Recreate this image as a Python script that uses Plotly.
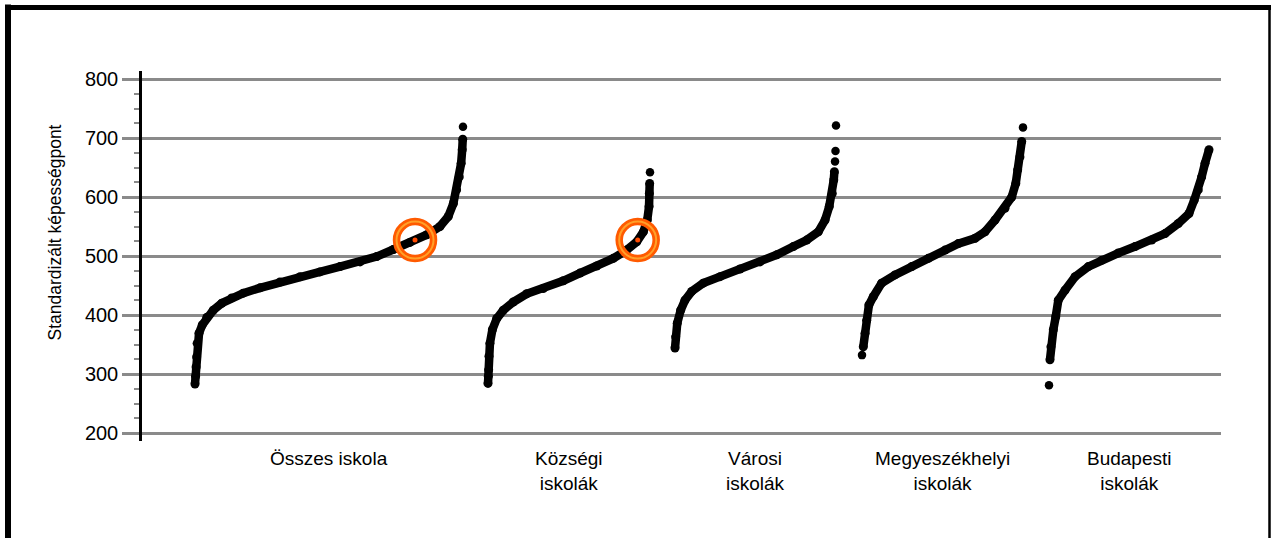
import plotly.graph_objects as go

# ---------------- data ----------------
categories = ["Összes iskola", "Községi\niskolák", "Városi\niskolák",
              "Megyeszékhelyi\niskolák", "Budapesti\niskolák"]

# percentile rank within the group (0-100) and standardized score
osszes_rank = [0, 0.2, 0.4, 0.6, 0.8, 1.5, 2.7, 4.4, 6.8, 10.0, 13.7, 18.0, 24.3, 31.7,
               39.2, 46.6, 54.1, 61.6, 67.8, 74.0, 80.2, 86.5, 91.4, 94.5, 96.4, 97.6,
               98.6, 99.3, 99.7, 99.9]
osszes_score = [283, 296, 312, 329, 352, 369, 383, 396, 408, 420, 429, 437, 446, 456,
                465, 473, 482, 490, 499, 511, 523, 536, 550, 567, 589, 612,
                634, 657, 680, 698]
osszes_out_rank = [100]
osszes_out_score = [719]

kozsegi_rank = [0, 0.2, 0.4, 0.6, 1.2, 2.7, 5.4, 9.4, 15.6, 23.9, 34.1, 46.5, 56.8,
                67.1, 77.3, 85.6, 91.8, 95.9, 98.3, 99.4, 99.6, 99.8]
kozsegi_score = [284, 296, 307, 330, 352, 375, 394, 408, 422, 436, 445, 458, 471,
                 483, 496, 510, 524, 541, 561, 584, 606, 623]
kozsegi_out_rank = [100]
kozsegi_out_score = [642]

varosi_rank = [0, 0.4, 1.4, 3.5, 6.2, 10.4, 17.6, 28.0, 40.4, 52.8, 63.2, 73.5, 81.8,
               89.0, 93.2, 95.8, 97.7, 98.6, 99.0]
varosi_score = [344, 363, 386, 408, 425, 440, 454, 465, 478, 490, 502, 516, 527,
                541, 561, 584, 606, 629, 643]
varosi_out_rank = [99.4, 99.7, 100]
varosi_out_score = [660, 678, 721]

megyei_rank = [0.8, 1.9, 2.9, 4.3, 7.0, 12.2, 20.5, 30.9, 41.2, 51.6, 59.8, 70.2,
               76.4, 82.6, 88.8, 93.0, 95.5, 96.7, 98.1, 99.2]
megyei_score = [346, 369, 391, 417, 431, 454, 468, 482, 496, 510, 521, 530,
                541, 561, 581, 600, 623, 646, 668, 694]
megyei_out_rank = [0, 100]
megyei_out_score = [332, 718]

budapest_rank = [0.6, 1.2, 2.7, 4.2, 5.8, 10.0, 16.3, 24.6, 33.0, 43.3, 53.8, 64.2,
                 72.5, 80.8, 87.5, 90.8, 93.3, 95.4, 97.5, 100]
budapest_score = [324, 346, 375, 397, 425, 442, 465, 482, 493, 505, 516, 527,
                  538, 555, 572, 595, 612, 634, 657, 680]
budapest_out_rank = [0]
budapest_out_score = [281]

highlight_category = ["Összes iskola", "Községi\niskolák"]
highlight_rank = [82.1, 92.4]
highlight_score = [527, 527]

y_tick_values = [200, 300, 400, 500, 600, 700, 800]
y_title = "Standardizált képességpont"

# ---------------- layout constants (window pixels) ----------------
W, H = 1273, 538
PLOT_L, PLOT_R, PLOT_T, PLOT_B = 142, 1221, 71, 441
X_SPAN = PLOT_R - PLOT_L
group_start = [195, 488, 675, 862, 1049]      # pixel start of each group
group_width = [268, 162, 161, 161, 160]
Y_RANGE = [500 - 313.56, 500 + 313.56]
FONT = "Liberation Sans, Arial, sans-serif"
GRID = "#8a8a8a"

series = [
    (osszes_rank, osszes_score, osszes_out_rank, osszes_out_score),
    (kozsegi_rank, kozsegi_score, kozsegi_out_rank, kozsegi_out_score),
    (varosi_rank, varosi_score, varosi_out_rank, varosi_out_score),
    (megyei_rank, megyei_score, megyei_out_rank, megyei_out_score),
    (budapest_rank, budapest_score, budapest_out_rank, budapest_out_score),
]


def gx(gi, rank):
    return [group_start[gi] - PLOT_L + r / 100.0 * group_width[gi] for r in rank]


def px_x(p):
    return (p - PLOT_L) / X_SPAN


def px_y(p):
    return (PLOT_B - p) / (PLOT_B - PLOT_T)


fig = go.Figure()
for gi, (rk, sc, ork, osc) in enumerate(series):
    fig.add_trace(go.Scatter(
        x=gx(gi, rk), y=sc, mode="lines+markers",
        line=dict(color="black", width=8.5),
        marker=dict(color="black", size=9),
        hoverinfo="skip", showlegend=False))
    fig.add_trace(go.Scatter(
        x=gx(gi, ork), y=osc, mode="markers",
        marker=dict(color="black", size=8.5),
        hoverinfo="skip", showlegend=False))

hx, hy = [], []
for cat, rk, sc in zip(highlight_category, highlight_rank, highlight_score):
    gi = categories.index(cat)
    hx += gx(gi, [rk])
    hy.append(sc)

fig.add_trace(go.Scatter(
    x=hx, y=hy, mode="markers",
    marker=dict(symbol="circle-open", size=37, color="#FF5A00",
                line=dict(width=7.5, color="#FF5A00")),
    hoverinfo="skip", showlegend=False))
fig.add_trace(go.Scatter(
    x=hx, y=hy, mode="markers",
    marker=dict(symbol="circle-open", size=37, color="#FFA028",
                line=dict(width=2, color="#FFA028")),
    hoverinfo="skip", showlegend=False))
fig.add_trace(go.Scatter(
    x=hx, y=hy, mode="markers",
    marker=dict(size=5, color="#FF4A00"),
    hoverinfo="skip", showlegend=False))

annotations = []
for gi, cat in enumerate(categories):
    cx = group_start[gi] - PLOT_L + group_width[gi] / 2.0
    annotations.append(dict(
        x=cx, xref="x", y=px_y(446), yref="paper",
        text=cat.replace("\n", "<br>"), showarrow=False,
        xanchor="center", yanchor="top", align="center",
        font=dict(family=FONT, size=19, color="black")))

annotations.append(dict(
    x=px_x(54), xref="paper", y=px_y(232.5), yref="paper",
    text=y_title, textangle=-90, showarrow=False,
    xanchor="center", yanchor="middle",
    font=dict(family=FONT, size=17.5, color="black")))

shapes = [
    dict(type="line", xref="paper", yref="paper",
         x0=px_x(8), x1=px_x(8), y0=px_y(4.5), y1=px_y(545),
         line=dict(color="black", width=6)),
    dict(type="line", xref="paper", yref="paper",
         x0=px_x(5), x1=px_x(1271), y0=px_y(7.5), y1=px_y(7.5),
         line=dict(color="black", width=5)),
    dict(type="line", xref="paper", yref="paper",
         x0=px_x(1269.5), x1=px_x(1269.5), y0=px_y(5), y1=px_y(545),
         line=dict(color="black", width=2.5)),
]

fig.update_layout(
    width=W, height=H, autosize=False,
    margin=dict(l=PLOT_L, r=W - PLOT_R, t=PLOT_T, b=H - PLOT_B, pad=0),
    paper_bgcolor="white", plot_bgcolor="white",
    font=dict(family=FONT, color="black"),
    showlegend=False,
    annotations=annotations, shapes=shapes,
    xaxis=dict(range=[0, X_SPAN], showgrid=False, zeroline=False,
               showticklabels=False, ticks="", showline=False, fixedrange=True),
    yaxis=dict(range=Y_RANGE, tickvals=y_tick_values,
               showgrid=True, gridcolor=GRID, gridwidth=2.5,
               zeroline=False, showline=True, linecolor="black", linewidth=2.5,
               ticks="outside", ticklen=17, tickwidth=2.5, tickcolor=GRID,
               tickfont=dict(family=FONT, size=20, color="black"),
               minor=dict(dtick=25, tick0=0, ticks="outside", ticklen=5,
                          tickwidth=2, tickcolor=GRID, showgrid=False),
               fixedrange=True),
)

fig.write_html("out.html", config={"displayModeBar": False},
               post_script="document.body.style.margin='0px';"
                           "document.body.style.overflow='hidden';")
